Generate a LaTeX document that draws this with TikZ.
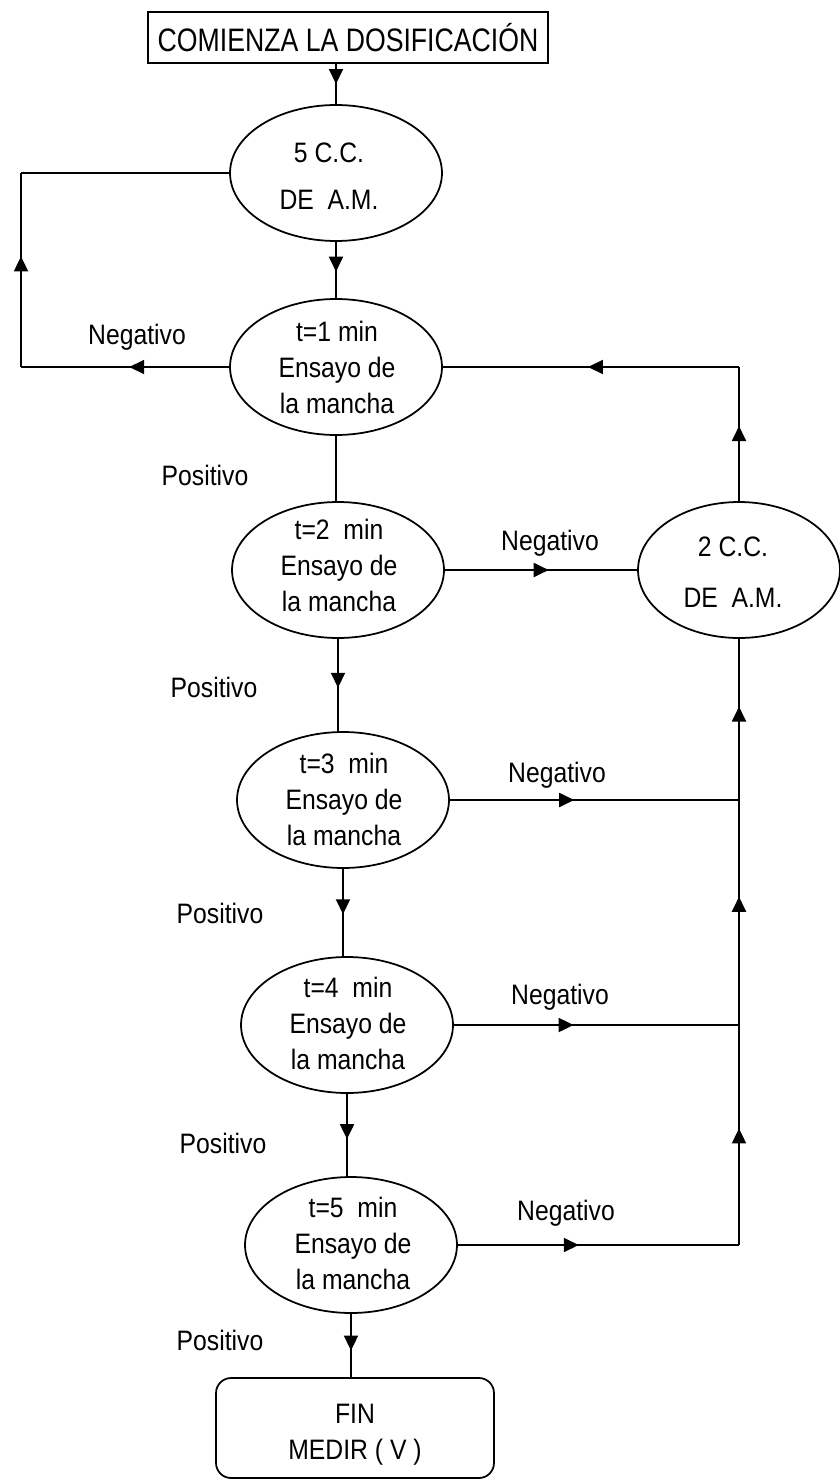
\documentclass[tikz,border=0pt]{standalone}
\usepackage{fontspec}
\setmainfont{Liberation Sans}[FakeStretch=0.88]
\newfontfamily\boxfont{Liberation Sans}[FakeStretch=0.82]
\usetikzlibrary{shapes.geometric,arrows.meta,decorations.markings}
\tikzset{
  x=0.02cm, y=-0.02cm,
  oval/.style={draw, ellipse, line width=1pt, minimum width=4.24cm, minimum height=2.72cm, inner sep=0pt},
  ovaltext/.style={font=\fontsize{16}{20.5}\selectfont, align=center, inner sep=0pt},
  lbl/.style={font=\fontsize{16}{20}\selectfont, inner sep=0pt},
  conn/.style={line width=1.1pt},
  midarrow/.style={conn, postaction={decorate}, decoration={markings,
      mark=at position #1 with {\arrow{Triangle[length=0.3cm,width=0.28cm]}}}},
}
\begin{document}
\begin{tikzpicture}
\useasboundingbox (0,0) rectangle (839,1480);

% boxes
\node[draw, line width=1pt, minimum width=8cm, minimum height=1.02cm, inner sep=0pt,
      font=\boxfont\fontsize{18.5}{22}\selectfont] (start) at (348,37.5) {COMIENZA LA DOSIFICACIÓN};
\node[draw, line width=1pt, rounded corners=0.3cm, minimum width=5.56cm, minimum height=2cm, inner sep=0pt] (fin) at (355,1428) {};
\node[ovaltext] (fintxt) at (355,1435) {FIN\\MEDIR ( V )};

% ellipses
\node[oval] (A) at (336,173) {};
\node[ovaltext, font=\fontsize{16}{26.7}\selectfont] (Atxt) at (329,176) {5 C.C.\\DE\ \ A.M.};
\node[oval] (B) at (336,367) {};
\node[ovaltext] (Btxt) at (337,367) {t=1 min\\Ensayo de\\la mancha};
\node[oval] (C) at (338,570) {};
\node[ovaltext] (Ctxt) at (339,565) {t=2\ \ min\\Ensayo de\\la mancha};
\node[oval, minimum width=4.04cm] (D) at (739,570) {};
\node[ovaltext, font=\fontsize{16}{29}\selectfont] (Dtxt) at (733,572) {2 C.C.\\DE\ \ A.M.};
\node[oval] (T3) at (343,800) {};
\node[ovaltext] (T3txt) at (344,799) {t=3\ \ min\\Ensayo de\\la mancha};
\node[oval] (T4) at (347,1025) {};
\node[ovaltext] (T4txt) at (348,1023) {t=4\ \ min\\Ensayo de\\la mancha};
\node[oval] (T5) at (351,1245) {};
\node[ovaltext] (T5txt) at (353,1243) {t=5\ \ min\\Ensayo de\\la mancha};

% helper coordinates
\coordinate (L1) at (21,367);
\coordinate (L2) at (21,173);
\coordinate (R1) at (739,367);
\coordinate (R3) at (739,800);
\coordinate (R4) at (739,1025);
\coordinate (R5) at (739,1245);

% main column
\draw[midarrow=0.5] (start.south -| A.north) -- (A.north);
\draw[midarrow=0.53] (A.south) -- (B.north);
\draw[conn] (B.south) -- (B.south |- C.north);
\draw[midarrow=0.53] (C.south) -- (C.south |- T3.north);
\draw[midarrow=0.52] (T3.south) -- (T3.south |- T4.north);
\draw[midarrow=0.55] (T4.south) -- (T4.south |- T5.north);
\draw[midarrow=0.58] (T5.south) -- (T5.south |- fin.north);

% left loop
\draw[midarrow=0.48] (B.west) -- (L1);
\draw[midarrow=0.57] (L1) -- (L2);
\draw[conn] (L2) -- (A.west);

% right loop
\draw[midarrow=0.54] (C.east) -- (D.west);
\draw[midarrow=0.56] (D.north) -- (R1);
\draw[midarrow=0.51] (R1) -- (B.east);
\draw[midarrow=0.43] (T3.east) -- (R3);
\draw[midarrow=0.58] (R3) -- (D.south);
\draw[midarrow=0.42] (T4.east) -- (R4);
\draw[midarrow=0.57] (R4) -- (R3);
\draw[midarrow=0.43] (T5.east) -- (R5);
\draw[midarrow=0.53] (R5) -- (R4);

% labels
\node[lbl] (n1) at (137,337) {Negativo};
\node[lbl] (p1) at (205,475) {Positivo};
\node[lbl] (n2) at (550,543) {Negativo};
\node[lbl] (p2) at (214,687) {Positivo};
\node[lbl] (n3) at (557,775) {Negativo};
\node[lbl] (p3) at (220,913) {Positivo};
\node[lbl] (n4) at (560,997) {Negativo};
\node[lbl] (p4) at (223,1143) {Positivo};
\node[lbl] (n5) at (566,1213) {Negativo};
\node[lbl] (p5) at (220,1340) {Positivo};
\end{tikzpicture}
\end{document}
